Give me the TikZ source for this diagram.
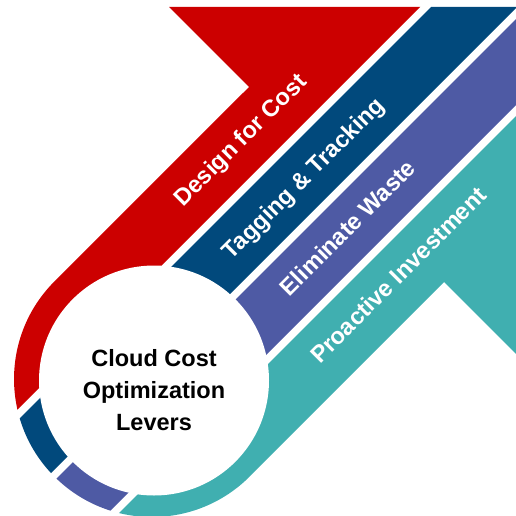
\documentclass[tikz,border=0pt]{standalone}
\usepackage{fontspec}
\setmainfont{Liberation Sans}
\definecolor{cred}{RGB}{204,0,0}
\definecolor{cnavy}{RGB}{1,73,124}
\definecolor{cpurple}{RGB}{78,90,164}
\definecolor{cteal}{RGB}{64,175,176}
\begin{document}
\begin{tikzpicture}[x=1pt,y=-1pt,
  lbl/.style={text=white, font=\bfseries\fontsize{23.6}{27}\selectfont, rotate=45, inner sep=0pt},
  hubtext/.style={text=black, align=center, font=\bfseries\fontsize{23.5}{32}\selectfont, inner sep=0pt},
  hubdisk/.style={circle, fill=white, minimum size=230pt, inner sep=0pt}]
\useasboundingbox (0,0) rectangle (515,516);
\begin{scope}
  \clip (169,7) -- (524,7) -- (524,362) -- (444,282) -- (249.6,476.6)
        arc[start angle=45, end angle=225, radius=138] -- (249,87) -- cycle;
  \foreach \a/\b/\col in {-600/427/cred, 438/524/cnavy, 535/621/cpurple, 632/1400/cteal}
    \fill[\col] ({(\a-900)/2},{(\a+900)/2}) -- ({(\a+900)/2},{(\a-900)/2})
       -- ({(\b+900)/2},{(\b-900)/2}) -- ({(\b-900)/2},{(\b+900)/2}) -- cycle;
\end{scope}
\node[hubdisk] (hub) at (154,380.5) {};
\node[hubtext] (title) at (154,390) {Cloud Cost\\Optimization\\Levers};
\node[lbl] (design) at (241.5,141) {Design for Cost};
\node[lbl] (tagging) at (304.5,179.5) {Tagging \& Tracking};
\node[lbl] (waste) at (347.5,227.5) {Eliminate Waste};
\node[lbl] (invest) at (398,275) {Proactive Investment};
\end{tikzpicture}
\end{document}
